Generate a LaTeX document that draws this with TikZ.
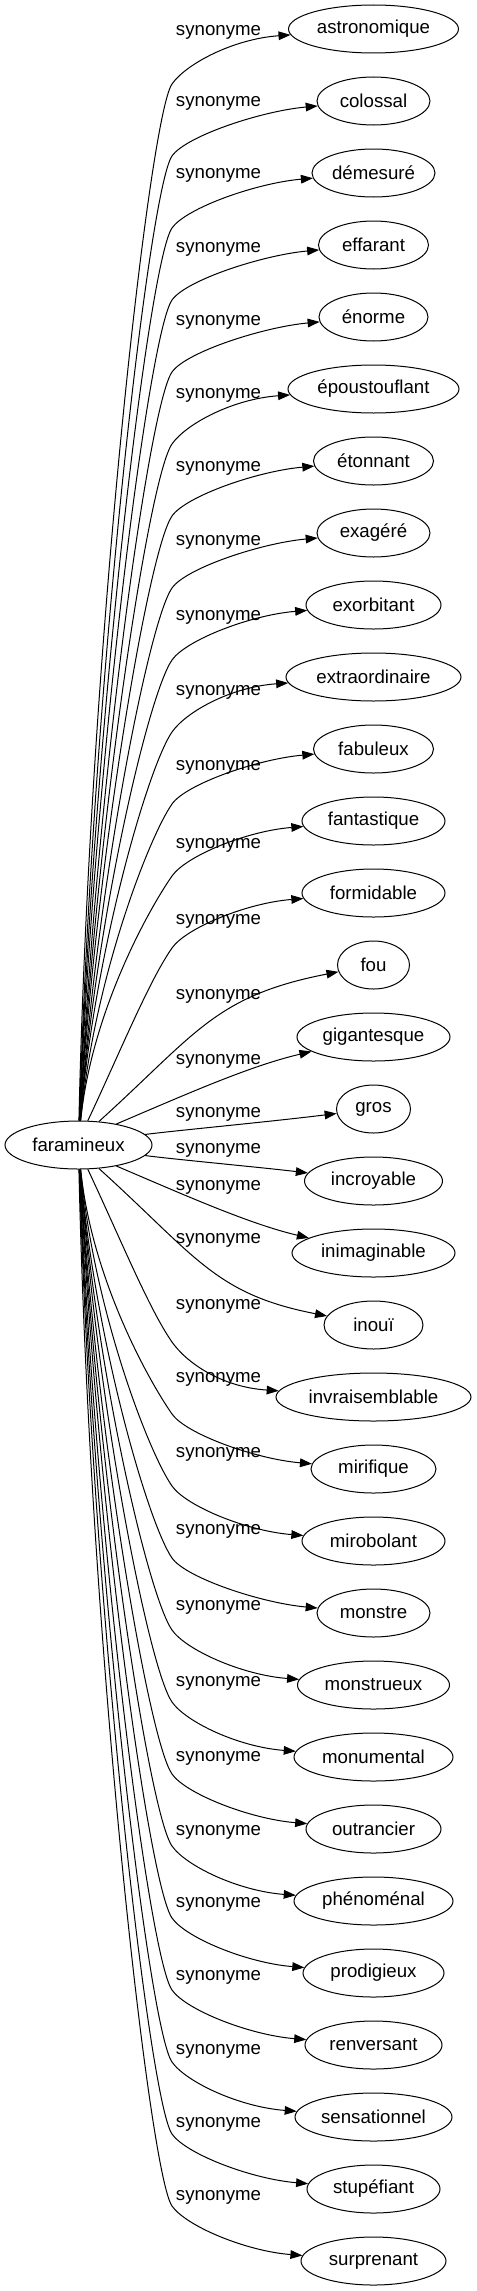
\documentclass[tikz,border=0pt]{standalone}
\usepackage{fontspec}
\setmainfont{Liberation Sans}
\usepackage{tikz}
\usetikzlibrary{calc,arrows.meta,shapes.geometric}
\tikzset{
	word/.style={draw, ellipse, line width=0.75pt, minimum height=36pt, inner sep=0pt, font=\fontsize{14}{17}\selectfont},
	rel/.style={inner sep=0pt, font=\fontsize{14}{17}\selectfont},
	link/.style={-{Triangle[length=9pt,width=6.5pt]}, line width=0.75pt}
}
% curved link from faramineux to a synonym, #2 = height of the synonym
\newcommand{\synlink}[2]{%
	\pgfmathsetmacro\hh{abs(#2-1145)}%
	\pgfmathsetmacro\sg{(#2<1145) ? -1 : 1}%
	\pgfmathsetmacro\aa{min(\hh/3.6, 84+5*\hh/1116)}%
	\pgfmathsetmacro\bb{\aa-8*sin(2*\aa)}%
	\pgfmathtruncatemacro\an{-1*(\sg)*\aa}%
	\ifdim\hh pt<250pt
		% near ones: one smooth curve
		\pgfmathsetmacro\dd{max(0.84*\hh-20, 0.6*\hh+10)}%
		\pgfmathsetmacro\ox{\dd*cos(\bb)}%
		\pgfmathsetmacro\oy{(\sg)*\dd*sin(\bb)}%
		\pgfmathsetmacro\qa{((\hh-36)/190)*((\hh-36)/190)}%
		\pgfmathsetmacro\qb{((\hh-150)/110)*((\hh-150)/110)}%
		\pgfmathsetmacro\cx{150+115*exp(-\qa)}%
		\pgfmathsetmacro\cy{#2-(\sg)*(3+30*exp(-\qb))}%
		\draw[link] (far.\an) .. controls +(\ox,\oy) and (\cx,\cy) .. (#1);%
	\else
		% far ones: long trunk, then a bend towards the word
		\pgfmathsetmacro\ll{\hh-79}%
		\pgfmathsetmacro\ox{0.45*\ll*cos(\bb)}%
		\pgfmathsetmacro\oy{(\sg)*0.45*\ll*sin(\bb)}%
		\pgfmathsetmacro\by{#2-(\sg)*55}%
		\pgfmathsetmacro\py{-1*(\sg)*33}%
		\pgfmathsetmacro\qy{(\sg)*20}%
		\pgfmathsetmacro\ry{-1*(\sg)*10}%
		\draw[link] (far.\an) .. controls +(\ox,\oy) and +(-23,\py) .. (172,\by)
			.. controls +(14,\qy) and ($(#1.west)+(-55,\ry)$) .. (#1);%
	\fi
}
\begin{document}
\begin{tikzpicture}[x=0.75pt, y=-0.75pt]
		\useasboundingbox (0,0) rectangle (476,2291);
		\node[word, minimum width=110.25pt] (far) at (78.5,1145) {faramineux};
		% synonyms
		\node[word, minimum width=127.5pt] (astronomique) at (373.5,29) {astronomique};
		\node[word, minimum width=84.75pt] (colossal) at (373.5,101) {colossal};
		\node[word, minimum width=92.25pt] (demesure) at (373.5,173) {démesuré};
		\node[word, minimum width=82.5pt] (effarant) at (373.5,245) {effarant};
		\node[word, minimum width=81.75pt] (enorme) at (373.5,317) {énorme};
		\node[word, minimum width=128.25pt] (epoustouflant) at (373.5,389) {époustouflant};
		\node[word, minimum width=90pt] (etonnant) at (373.5,461) {étonnant};
		\node[word, minimum width=84.75pt] (exagere) at (373.5,533) {exagéré};
		\node[word, minimum width=101.25pt] (exorbitant) at (373.5,605) {exorbitant};
		\node[word, minimum width=131.25pt] (extraordinaire) at (373.5,677) {extraordinaire};
		\node[word, minimum width=90pt] (fabuleux) at (373.5,749) {fabuleux};
		\node[word, minimum width=107.25pt] (fantastique) at (373.5,821) {fantastique};
		\node[word, minimum width=107.25pt] (formidable) at (373.5,893) {formidable};
		\node[word, minimum width=54pt] (fou) at (373.5,965) {fou};
		\node[word, minimum width=114.75pt] (gigantesque) at (373.5,1037) {gigantesque};
		\node[word, minimum width=55.5pt] (gros) at (373.5,1109) {gros};
		\node[word, minimum width=103.5pt] (incroyable) at (373.5,1181) {incroyable};
		\node[word, minimum width=122.25pt] (inimaginable) at (373.5,1253) {inimaginable};
		\node[word, minimum width=74.25pt] (inoui) at (373.5,1325) {inouï};
		\node[word, minimum width=146.25pt] (invraisemblable) at (373.5,1397) {invraisemblable};
		\node[word, minimum width=93.75pt] (mirifique) at (373.5,1469) {mirifique};
		\node[word, minimum width=107.25pt] (mirobolant) at (373.5,1541) {mirobolant};
		\node[word, minimum width=84.75pt] (monstre) at (373.5,1613) {monstre};
		\node[word, minimum width=114pt] (monstrueux) at (373.5,1685) {monstrueux};
		\node[word, minimum width=119.25pt] (monumental) at (373.5,1757) {monumental};
		\node[word, minimum width=101.25pt] (outrancier) at (373.5,1829) {outrancier};
		\node[word, minimum width=119.25pt] (phenomenal) at (373.5,1901) {phénoménal};
		\node[word, minimum width=105.75pt] (prodigieux) at (373.5,1973) {prodigieux};
		\node[word, minimum width=102.75pt] (renversant) at (373.5,2045) {renversant};
		\node[word, minimum width=117.75pt] (sensationnel) at (373.5,2117) {sensationnel};
		\node[word, minimum width=99.75pt] (stupefiant) at (373.5,2189) {stupéfiant};
		\node[word, minimum width=108.75pt] (surprenant) at (373.5,2261) {surprenant};
		% edge labels
		\node[rel] (lab01) at (218.5,32) {synonyme};
		\node[rel] (lab02) at (218.5,103) {synonyme};
		\node[rel] (lab03) at (218.5,175) {synonyme};
		\node[rel] (lab04) at (218.5,249) {synonyme};
		\node[rel] (lab05) at (218.5,322) {synonyme};
		\node[rel] (lab06) at (218.5,395) {synonyme};
		\node[rel] (lab07) at (218.5,468) {synonyme};
		\node[rel] (lab08) at (218.5,542) {synonyme};
		\node[rel] (lab09) at (218.5,617) {synonyme};
		\node[rel] (lab10) at (218.5,692) {synonyme};
		\node[rel] (lab11) at (218.5,767) {synonyme};
		\node[rel] (lab12) at (218.5,845) {synonyme};
		\node[rel] (lab13) at (218.5,921) {synonyme};
		\node[rel] (lab14) at (218.5,996) {synonyme};
		\node[rel] (lab15) at (218.5,1061) {synonyme};
		\node[rel] (lab16) at (218.5,1114) {synonyme};
		\node[rel] (lab17) at (218.5,1150) {synonyme};
		\node[rel] (lab18) at (218.5,1187) {synonyme};
		\node[rel] (lab19) at (218.5,1240) {synonyme};
		\node[rel] (lab20) at (218.5,1306) {synonyme};
		\node[rel] (lab21) at (218.5,1379) {synonyme};
		\node[rel] (lab22) at (218.5,1454) {synonyme};
		\node[rel] (lab23) at (218.5,1531) {synonyme};
		\node[rel] (lab24) at (218.5,1607) {synonyme};
		\node[rel] (lab25) at (218.5,1683) {synonyme};
		\node[rel] (lab26) at (218.5,1758) {synonyme};
		\node[rel] (lab27) at (218.5,1832) {synonyme};
		\node[rel] (lab28) at (218.5,1904) {synonyme};
		\node[rel] (lab29) at (218.5,1977) {synonyme};
		\node[rel] (lab30) at (218.5,2051) {synonyme};
		\node[rel] (lab31) at (218.5,2124) {synonyme};
		\node[rel] (lab32) at (218.5,2197) {synonyme};
		% links
		\synlink{astronomique}{29}
		\synlink{colossal}{101}
		\synlink{demesure}{173}
		\synlink{effarant}{245}
		\synlink{enorme}{317}
		\synlink{epoustouflant}{389}
		\synlink{etonnant}{461}
		\synlink{exagere}{533}
		\synlink{exorbitant}{605}
		\synlink{extraordinaire}{677}
		\synlink{fabuleux}{749}
		\synlink{fantastique}{821}
		\synlink{formidable}{893}
		\synlink{fou}{965}
		\synlink{gigantesque}{1037}
		\synlink{gros}{1109}
		\synlink{incroyable}{1181}
		\synlink{inimaginable}{1253}
		\synlink{inoui}{1325}
		\synlink{invraisemblable}{1397}
		\synlink{mirifique}{1469}
		\synlink{mirobolant}{1541}
		\synlink{monstre}{1613}
		\synlink{monstrueux}{1685}
		\synlink{monumental}{1757}
		\synlink{outrancier}{1829}
		\synlink{phenomenal}{1901}
		\synlink{prodigieux}{1973}
		\synlink{renversant}{2045}
		\synlink{sensationnel}{2117}
		\synlink{stupefiant}{2189}
		\synlink{surprenant}{2261}
	\end{tikzpicture}
\end{document}
